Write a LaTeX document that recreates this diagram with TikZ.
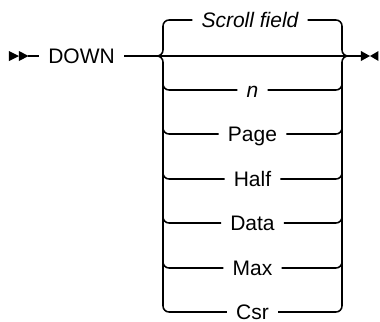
\documentclass[tikz,border=0pt]{standalone}
\usepackage{fontspec}
\setmainfont{Liberation Sans}
\begin{document}
\begin{tikzpicture}[x=0.75pt,y=-0.75pt,
  rail/.style={line width=1.15pt,black,rounded corners=4.5pt},
  lbl/.style={inner xsep=6.75pt,inner ysep=0pt,text height=11.3pt,text depth=0pt,
    font=\fontsize{15.75pt}{18pt}\selectfont},
  tri/.style={fill=black}]
\useasboundingbox (0,0) rectangle (380,322);
% markers
\coordinate (s0) at (9,56);
\coordinate (s1) at (19,56);
\coordinate (s2) at (28.5,56);
\fill[tri] (s0) ++(0,-5) -- (s1) -- ++(-10,5) -- cycle;
\fill[tri] (s1) ++(0,-5) -- (s2) -- ++(-9.5,5) -- cycle;
\coordinate (e0) at (361,56);
\coordinate (e1) at (370,56);
\coordinate (e2) at (378.5,56);
\fill[tri] (e0) ++(0,-5) -- (e1) -- ++(-9,5) -- cycle;
\fill[tri] (e2) ++(0,-5) -- (e1) -- ++(8.5,5) -- cycle;
% nodes
\node[lbl,anchor=west] (down) at (39,56) {DOWN};
\node[lbl] (sf) at (250,20) {\itshape Scroll field};
\node[lbl] (n) at (252.5,90) {\itshape n};
\node[lbl] (page) at (252.5,134) {Page};
\node[lbl] (half) at (252.5,179) {Half};
\node[lbl] (data) at (252.5,223) {Data};
\node[lbl] (max) at (252.5,268) {Max};
\node[lbl] (csr) at (252.5,312) {Csr};
\coordinate (lj) at (155,56);
\coordinate (rj) at (350,56);
% main line
\draw[rail] (s2) -- (down.west);
\draw[rail] (down.east) -- (lj) -- (rj) -- (e0);
% scroll field (upper)
\draw[rail] (lj) -- (163,56) -- (163,20) -- (sf.west);
\draw[rail] (sf.east) -- (342,20) -- (342,56) -- (rj);
% lower branches
\draw[rail] (lj) -- (163,56) -- (163,312) -- (csr.west);
\draw[rail] (csr.east) -- (342,312) -- (342,56) -- (rj);
\foreach \r in {n,page,half,data,max}{
  \draw[rail] (163,70) |- (\r.west);
  \draw[rail] (\r.east) -| (342,70);
}
\end{tikzpicture}
\end{document}
